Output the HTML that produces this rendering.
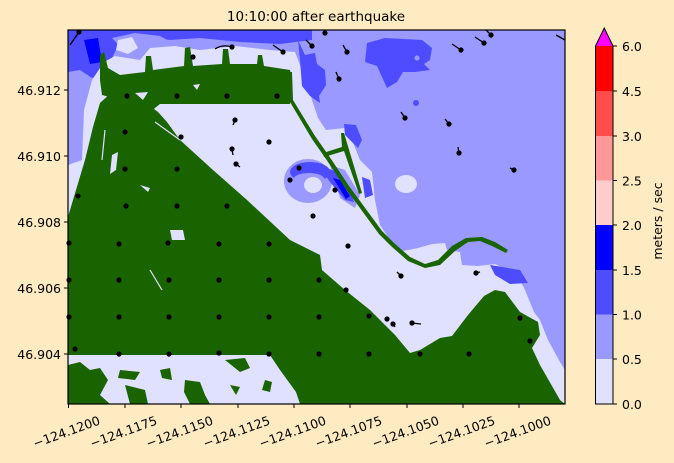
<!DOCTYPE html>
<html><head><meta charset="utf-8"><style>
html,body{margin:0;padding:0;background:#ffebc1;}
svg{display:block;font-family:"DejaVu Sans","Liberation Sans",sans-serif;}
</style></head><body>
<svg width="674" height="463" viewBox="0 0 674 463" xmlns="http://www.w3.org/2000/svg">
<rect width="674" height="463" fill="#ffebc1"/>
<defs><clipPath id="c"><rect x="68" y="30" width="497" height="374"/></clipPath></defs>
<g clip-path="url(#c)">
<rect x="68" y="30" width="497" height="374" fill="#9999ff"/>
<!-- top dark strip -->
<path d="M68,30 L312,30 L312,40 L280,44 L240,42 L200,38 L170,40 L140,36 L120,42 L112,58 L108,72 L92,78 L80,70 L68,72 Z" fill="#4d4dff"/>
<path d="M84,40 L98,38 L102,62 L90,64 Z" fill="#0000ff"/>
<path d="M112,38 L135,33 L160,36 L175,44 L170,52 L150,55 L125,52 Z" fill="#9999ff"/>
<path d="M118,40 L132,37 L138,48 L128,54 L116,50 Z" fill="#e0e0ff"/>
<!-- light region -->
<path d="M68,215 L68,165 L82,160 L84,110 L92,80 L104,62 L115,56 L140,60 L150,48 L175,46 L200,50 L235,46 L270,50 L295,52 L300,65 L306,80 L312,100 L318,118 L326,130 L345,128 L352,140 L360,160 L372,172 L375,200 L380,225 L398,252 L418,248 L432,244 L445,243 L447,250 L460,252 L462,265 L478,266 L495,264 L518,276 L525,290 L534,312 L540,320 L548,340 L560,362 L565,370 L565,404 L68,404 Z" fill="#e0e0ff"/>
<!-- blue blobs -->
<path d="M367,43 L385,38 L422,40 L432,48 L430,60 L424,64 L430,70 L415,72 L403,72 L397,82 L387,88 L377,66 L365,62 Z" fill="#4d4dff"/>
<circle cx="417" cy="58" r="2.5" fill="#9999ff"/>
<path d="M298,40 L305,55 L315,53 L317,64 L325,70 L326,85 L319,96 L320,103 L310,96 L302,86 L300,60 Z" fill="#4d4dff"/>
<circle cx="416" cy="103" r="3" fill="#4d4dff"/>
<path d="M344,124 L356,125 L362,140 L358,148 L345,135 Z" fill="#4d4dff"/>
<path d="M490,265 L520,270 L528,283 L510,284 L495,275 Z" fill="#4d4dff"/>
<!-- ring -->
<ellipse cx="308" cy="181" rx="24" ry="22" fill="#9999ff"/>
<path d="M330,165 L345,170 L360,195 L355,208 L340,198 Z" fill="#9999ff"/>
<ellipse cx="310" cy="172" rx="20" ry="10" fill="#4d4dff"/>
<path d="M318,165 L338,172 L350,190 L354,202 L345,200 L330,182 Z" fill="#4d4dff"/>
<path d="M333,178 L340,180 L350,196 L346,199 Z" fill="#0000ff"/>
<ellipse cx="309" cy="180" rx="16" ry="7" fill="#9999ff"/>
<ellipse cx="313" cy="185" rx="9" ry="8" fill="#e0e0ff"/>
<path d="M362,177 L370,180 L373,195 L365,198 Z" fill="#4d4dff"/>
<ellipse cx="406" cy="184" rx="11" ry="9" fill="#e0e0ff"/>
<!-- green land -->
<g fill="#1a6400">
<!-- arc band -->
<path d="M100,55 L104,52 L108,68 L120,75 L145,72 L146,56 L151,56 L153,70 L184,66 L185,48 L190,47 L193,66 L222,64 L223,49 L228,49 L230,64 L257,64 L258,55 L262,55 L264,66 L290,70 L292,80 L290,104 L160,104 L150,112 L120,100 L102,95 L100,80 Z"/>
<!-- big land -->
<path d="M68,217 L73,200 L85,160 L93,127 L100,103 L112,92 L130,98 L150,106 L158,112 L167,122 L180,140 L213,170 L247,200 L290,240 L300,245 L320,255 L322,270 L345,290 L370,310 L395,335 L410,353 L420,350 L440,338 L452,336 L468,315 L484,296 L495,290 L505,292 L520,312 L538,322 L540,335 L532,348 L540,365 L560,400 L565,404 L300,404 L296,392 L280,370 L270,355 L68,355 Z"/>
<!-- jetty -->
<path d="M288,72 L292,72 L293,100 L315,136 L329,156 L349,186 L382,231 L394,243 L410,257 L425,264 L438,260 L452,246 L466,238 L482,237 L495,242 L508,250 L506,253 L492,246 L480,241 L468,242 L455,251 L440,265 L425,268 L408,261 L391,246 L379,234 L346,189 L326,159 L312,139 L290,102 Z"/>
<path d="M323,153 L342,147 L341,133 L344,133 L362,193 L359,194 L344,151 L324,157 Z"/>
<!-- bottom left specks -->
<path d="M68,365 L80,362 L90,370 L100,368 L108,380 L100,395 L110,404 L68,404 Z"/>
<path d="M120,370 L140,372 L135,380 L118,378 Z"/>
<path d="M125,385 L145,390 L148,404 L130,404 Z"/>
<path d="M160,370 L170,368 L172,380 L162,378 Z"/>
<path d="M185,380 L200,382 L205,395 L210,404 L190,404 L184,392 Z"/>
<path d="M225,360 L245,358 L250,368 L240,372 Z"/>
<path d="M265,380 L272,382 L270,392 L262,390 Z"/>
<path d="M230,385 L240,387 L236,395 Z"/>
</g>
<!-- white specks on land -->
<g fill="#e0e0ff">
<path d="M135,93 L148,92 L143,100 Z"/><path d="M193,85 L200,84 L197,90 Z"/>
<path d="M112,155 L118,152 L116,170 L110,174 Z"/>
<path d="M170,230 L183,230 L185,240 L172,240 Z"/>
<path d="M140,185 L150,188 L148,192 Z"/>
</g>
<g stroke="#e0e0ff" stroke-width="1.2" fill="none"><path d="M155,122 L180,140"/><path d="M105,130 L102,160"/><path d="M150,270 L162,290"/></g>
</g>
<!-- dots -->
<g fill="#000">
<circle cx="69" cy="243" r="2.6"/><circle cx="119" cy="244" r="2.6"/><circle cx="168" cy="243" r="2.6"/><circle cx="219" cy="244" r="2.6"/><circle cx="269" cy="244" r="2.6"/>
<circle cx="69" cy="280" r="2.6"/><circle cx="119" cy="280" r="2.6"/><circle cx="169" cy="280" r="2.6"/><circle cx="219" cy="280" r="2.6"/><circle cx="269" cy="280" r="2.6"/><circle cx="319" cy="280" r="2.6"/>
<circle cx="69" cy="317" r="2.6"/><circle cx="119" cy="317" r="2.6"/><circle cx="169" cy="317" r="2.6"/><circle cx="219" cy="317" r="2.6"/><circle cx="269" cy="317" r="2.6"/><circle cx="319" cy="317" r="2.6"/>
<circle cx="75" cy="349" r="2.6"/><circle cx="119" cy="354" r="2.6"/><circle cx="169" cy="354" r="2.6"/><circle cx="219" cy="353" r="2.6"/><circle cx="269" cy="354" r="2.6"/><circle cx="319" cy="354" r="2.6"/><circle cx="369" cy="354" r="2.6"/><circle cx="420" cy="354" r="2.6"/><circle cx="469" cy="354" r="2.6"/>
<circle cx="126" cy="206" r="2.6"/><circle cx="177" cy="206" r="2.6"/><circle cx="227" cy="206" r="2.6"/>
<circle cx="127" cy="96" r="2.6"/><circle cx="177" cy="96" r="2.6"/><circle cx="227" cy="96" r="2.6"/><circle cx="277" cy="96" r="2.6"/>
<circle cx="125" cy="132" r="2.6"/><circle cx="181" cy="137" r="2.6"/><circle cx="125" cy="169" r="2.6"/><circle cx="177" cy="169" r="2.6"/><circle cx="78" cy="196" r="2.6"/>
<circle cx="79" cy="32" r="2.6"/><circle cx="232" cy="47" r="2.6"/><circle cx="193" cy="57" r="2.6"/><circle cx="283" cy="52" r="2.6"/><circle cx="312" cy="46" r="2.6"/><circle cx="347" cy="52" r="2.6"/><circle cx="339" cy="79" r="2.6"/><circle cx="325" cy="33" r="2.6"/>
<circle cx="235" cy="120" r="2.6"/><circle cx="269" cy="142" r="2.6"/><circle cx="232" cy="149" r="2.6"/><circle cx="236" cy="164" r="2.6"/><circle cx="299" cy="168" r="2.6"/><circle cx="290" cy="180" r="2.6"/><circle cx="335" cy="190" r="2.6"/><circle cx="313" cy="216" r="2.6"/>
<circle cx="348" cy="246" r="2.6"/><circle cx="346" cy="290" r="2.6"/><circle cx="369" cy="316" r="2.6"/><circle cx="387" cy="319" r="2.6"/><circle cx="393" cy="324" r="2.6"/><circle cx="412" cy="323" r="2.6"/><circle cx="401" cy="276" r="2.6"/><circle cx="476" cy="273" r="2.6"/><circle cx="520" cy="318" r="2.6"/><circle cx="530" cy="341" r="2.6"/>
<circle cx="405" cy="118" r="2.6"/><circle cx="449" cy="124" r="2.6"/><circle cx="459" cy="153" r="2.6"/><circle cx="514" cy="170" r="2.6"/><circle cx="461" cy="50" r="2.6"/><circle cx="484" cy="43" r="2.6"/><circle cx="491" cy="35" r="2.6"/>
</g>
<g stroke="#000" stroke-width="1.3" fill="none">
<path d="M312,46 L306,40"/><path d="M347,52 L343,45"/><path d="M339,79 L336,72"/><path d="M283,52 L273,45"/><path d="M405,118 L401,112"/><path d="M449,124 L445,119"/><path d="M459,153 L458,147"/><path d="M514,170 L510,168"/><path d="M461,50 L452,44"/><path d="M484,43 L475,37"/><path d="M491,35 L486,30"/>
<path d="M232,47 Q222,44 215,49"/><path d="M79,32 L70,45"/><path d="M235,120 L233,125"/><path d="M232,149 L233,155"/><path d="M236,164 L240,167"/><path d="M401,276 L397,272"/><path d="M412,323 L421,324"/><path d="M393,324 L395,327"/><path d="M476,273 L480,272"/><path d="M556,35 L565,40"/>
</g>
<rect x="68" y="30" width="497" height="374" fill="none" stroke="#000" stroke-width="1.2"/>
<g stroke="#000" stroke-width="1"><path d="M68,90h-4M68,156h-4M68,222h-4M68,288h-4M68,354h-4"/>
<path d="M68.5,404v4M125,404v4M181,404v4M238,404v4M294,404v4M350,404v4M407,404v4M463,404v4M519,404v4"/></g>
<g font-size="12.5" fill="#000" text-anchor="end">
<text x="61" y="95">46.912</text><text x="61" y="161">46.910</text><text x="61" y="227">46.908</text><text x="61" y="293">46.906</text><text x="61" y="359">46.904</text>
</g>
<g font-size="12.5" fill="#000" text-anchor="middle">
<text transform="translate(68,436) rotate(-20)">−124.1200</text>
<text transform="translate(125,436) rotate(-20)">−124.1175</text>
<text transform="translate(181,436) rotate(-20)">−124.1150</text>
<text transform="translate(238,436) rotate(-20)">−124.1125</text>
<text transform="translate(294,436) rotate(-20)">−124.1100</text>
<text transform="translate(350,436) rotate(-20)">−124.1075</text>
<text transform="translate(407,436) rotate(-20)">−124.1050</text>
<text transform="translate(463,436) rotate(-20)">−124.1025</text>
<text transform="translate(519,436) rotate(-20)">−124.1000</text>
</g>
<text x="316" y="21" font-size="13.5" text-anchor="middle" fill="#000">10:10:00 after earthquake</text>
<rect x="595.5" y="359" width="17.5" height="45" fill="#e0e0ff"/>
<rect x="595.5" y="314.5" width="17.5" height="44.5" fill="#9999ff"/>
<rect x="595.5" y="270" width="17.5" height="44.5" fill="#4d4dff"/>
<rect x="595.5" y="225" width="17.5" height="45" fill="#0000ff"/>
<rect x="595.5" y="180.5" width="17.5" height="44.5" fill="#ffcccc"/>
<rect x="595.5" y="136" width="17.5" height="44.5" fill="#ff9999"/>
<rect x="595.5" y="91" width="17.5" height="45" fill="#ff4d4d"/>
<rect x="595.5" y="46" width="17.5" height="45" fill="#ff0000"/>
<path d="M595.5,46 L604.25,28 L613,46 Z" fill="#ff00ff"/>
<path d="M595.5,404 L595.5,46 L604.25,28 L613,46 L613,404 Z" fill="none" stroke="#000" stroke-width="1"/>
<g stroke="#000"><path d="M613,404h4M613,359h4M613,314.5h4M613,270h4M613,225h4M613,180.5h4M613,136h4M613,91h4M613,46h4"/></g>
<g font-size="12.5" fill="#000">
<text x="622" y="409">0.0</text><text x="622" y="364">0.5</text><text x="622" y="319.5">1.0</text><text x="622" y="275">1.5</text><text x="622" y="230">2.0</text><text x="622" y="185.5">2.5</text><text x="622" y="141">3.0</text><text x="622" y="96">4.5</text><text x="622" y="51">6.0</text>
</g>
<text transform="translate(662,221) rotate(-90)" font-size="12.5" text-anchor="middle" fill="#000">meters / sec</text>
</svg>
</body></html>
